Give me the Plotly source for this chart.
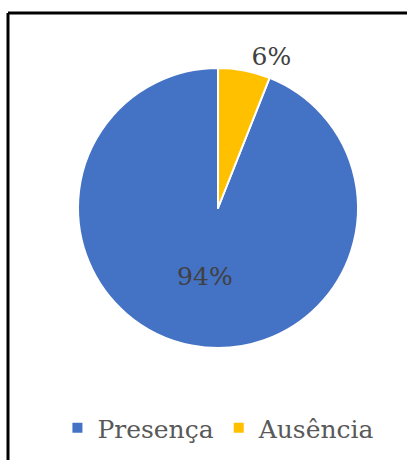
import plotly.graph_objects as go

labels = ["Presença", "Ausência"]
values = [94, 6]
colors = ["#4472C4", "#FFC000"]
text_positions = ["inside", "outside"]

W, H = 417, 460
cx, cy, r = 218, 208, 140
FONT = "DejaVu Serif"
FS = 25

# start Presença right after the Ausência wedge so Ausência sits just right of 12 o'clock
rot = 360.0 * values[1] / sum(values)

fig = go.Figure(go.Pie(
    labels=labels,
    values=values,
    sort=False,
    direction="clockwise",
    rotation=rot,
    marker=dict(colors=colors, line=dict(color="white", width=2)),
    textinfo="percent",
    texttemplate="%{percent:.0%}",
    textposition=text_positions,
    insidetextorientation="horizontal",
    textfont=dict(family=FONT, size=FS, color="#404040"),
    outsidetextfont=dict(family=FONT, size=FS, color="#404040"),
    domain=dict(x=[(cx - r) / W, (cx + r) / W], y=[(H - cy - r) / H, (H - cy + r) / H]),
    hoverinfo="label+percent",
))

fig.update_layout(
    width=W, height=H,
    margin=dict(l=0, r=0, t=0, b=0),
    paper_bgcolor="white",
    plot_bgcolor="white",
    font=dict(family=FONT, size=FS, color="#404040"),
    legend=dict(orientation="h", x=0.525, xanchor="center", y=(H - 428) / H, yanchor="middle",
                font=dict(family=FONT, size=FS, color="#595959"), itemwidth=30, traceorder="normal"),
    shapes=[
        dict(type="line", xref="paper", yref="paper", x0=8 / W, x1=407 / W, y0=1 - 13 / H, y1=1 - 13 / H,
             line=dict(color="black", width=3)),
        dict(type="line", xref="paper", yref="paper", x0=8 / W, x1=8 / W, y0=1 - 13 / H, y1=0,
             line=dict(color="black", width=3)),
    ],
)

fig.write_html("out.html")
